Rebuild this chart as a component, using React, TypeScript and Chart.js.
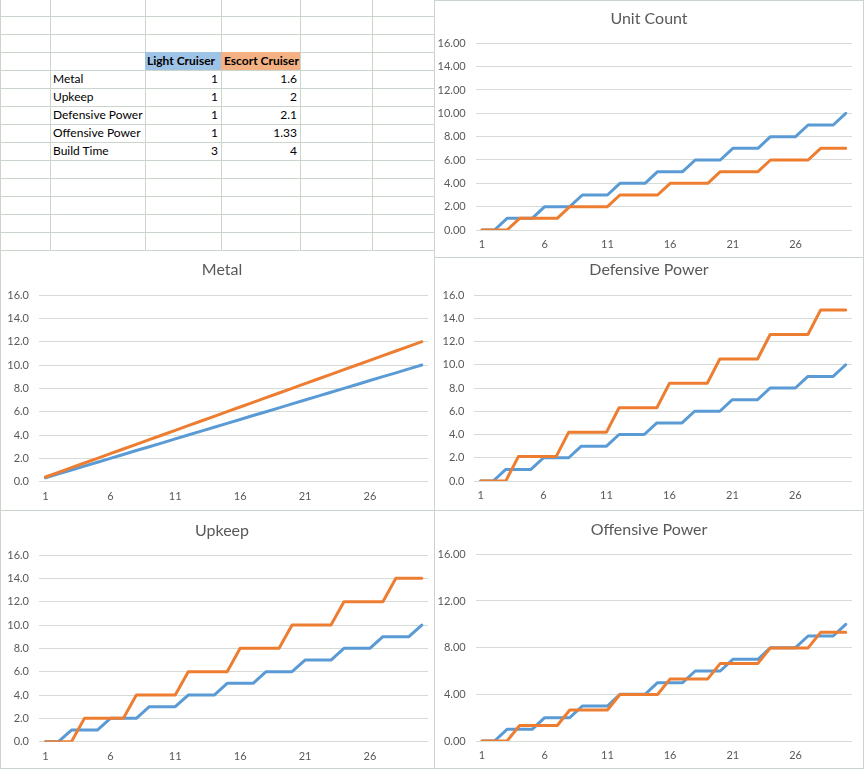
import React, { useEffect, useRef } from 'react';
import { Chart, registerables } from 'chart.js';

Chart.register(...registerables);

// ---------- data ----------
const turnLabels = ['1', '2', '3', '4', '5', '6', '7', '8', '9', '10', '11', '12', '13', '14', '15', '16', '17', '18', '19', '20', '21', '22', '23', '24', '25', '26', '27', '28', '29', '30'];

const seriesNames = ['Light Cruiser', 'Escort Cruiser'];

const unitCountLight = [0, 0, 1, 1, 1, 2, 2, 2, 3, 3, 3, 4, 4, 4, 5, 5, 5, 6, 6, 6, 7, 7, 7, 8, 8, 8, 9, 9, 9, 10];
const unitCountEscort = [0, 0, 0, 1, 1, 1, 1, 2, 2, 2, 2, 3, 3, 3, 3, 4, 4, 4, 4, 5, 5, 5, 5, 6, 6, 6, 6, 7, 7, 7];

const metalLight = [0.33, 0.67, 1.0, 1.33, 1.67, 2.0, 2.33, 2.67, 3.0, 3.33, 3.67, 4.0, 4.33, 4.67, 5.0, 5.33, 5.67, 6.0, 6.33, 6.67, 7.0, 7.33, 7.67, 8.0, 8.33, 8.67, 9.0, 9.33, 9.67, 10.0];
const metalEscort = [0.4, 0.8, 1.2, 1.6, 2.0, 2.4, 2.8, 3.2, 3.6, 4.0, 4.4, 4.8, 5.2, 5.6, 6.0, 6.4, 6.8, 7.2, 7.6, 8.0, 8.4, 8.8, 9.2, 9.6, 10.0, 10.4, 10.8, 11.2, 11.6, 12.0];

const defensiveLight = [0, 0, 1, 1, 1, 2, 2, 2, 3, 3, 3, 4, 4, 4, 5, 5, 5, 6, 6, 6, 7, 7, 7, 8, 8, 8, 9, 9, 9, 10];
const defensiveEscort = [0, 0, 0, 2.1, 2.1, 2.1, 2.1, 4.2, 4.2, 4.2, 4.2, 6.3, 6.3, 6.3, 6.3, 8.4, 8.4, 8.4, 8.4, 10.5, 10.5, 10.5, 10.5, 12.6, 12.6, 12.6, 12.6, 14.7, 14.7, 14.7];

const upkeepLight = [0, 0, 1, 1, 1, 2, 2, 2, 3, 3, 3, 4, 4, 4, 5, 5, 5, 6, 6, 6, 7, 7, 7, 8, 8, 8, 9, 9, 9, 10];
const upkeepEscort = [0, 0, 0, 2, 2, 2, 2, 4, 4, 4, 4, 6, 6, 6, 6, 8, 8, 8, 8, 10, 10, 10, 10, 12, 12, 12, 12, 14, 14, 14];

const offensiveLight = [0, 0, 1, 1, 1, 2, 2, 2, 3, 3, 3, 4, 4, 4, 5, 5, 5, 6, 6, 6, 7, 7, 7, 8, 8, 8, 9, 9, 9, 10];
const offensiveEscort = [0, 0, 0, 1.33, 1.33, 1.33, 1.33, 2.66, 2.66, 2.66, 2.66, 3.99, 3.99, 3.99, 3.99, 5.32, 5.32, 5.32, 5.32, 6.65, 6.65, 6.65, 6.65, 7.98, 7.98, 7.98, 7.98, 9.31, 9.31, 9.31];

const statNames = ['Metal', 'Upkeep', 'Defensive Power', 'Offensive Power', 'Build Time'];
const lightCruiserStats = [1, 1, 1, 1, 3];
const escortCruiserStats = [1.6, 2, 2.1, 1.33, 4];

// ---------- styles ----------
const BLUE = '#5b9bd5';
const ORANGE = '#ed7d31';
const TEXT = '#595959';
const CHART_GRID = '#d6dbd6';
const SHEET_GRID = '#ccd5cc';
const FONT = 'Lato, Carlito, "Open Sans", sans-serif';

// Centre the title over the whole chart box (Excel style), not the padded area.
const fullWidthTitle = {
  id: 'fullWidthTitle',
  afterLayout(chart: any) {
    const t = chart.titleBlock;
    if (t) {
      t.left = 0;
      t.right = chart.width;
      t.width = chart.width;
    }
  },
};

type PanelProps = {
  title: string;
  light: number[];
  escort: number[];
  stepSize: number;
  decimals: number;
  left: number;
  top: number;
  width: number;
  height: number;
  z: number;
  yWidth: number;
  rightPad: number;
  titleTop: number;
  titleBottom: number;
  bottomPad: number;
};

function ChartPanel(p: PanelProps) {
  const ref = useRef<HTMLCanvasElement | null>(null);
  useEffect(() => {
    if (!ref.current) return;
    const chart = new Chart(ref.current, {
      type: 'line',
      data: {
        labels: turnLabels,
        datasets: [
          {
            label: seriesNames[0],
            data: p.light,
            borderColor: BLUE,
            backgroundColor: BLUE,
            borderWidth: 3,
            pointRadius: 0,
            tension: 0,
            borderCapStyle: 'round',
            borderJoinStyle: 'round',
            order: 1,
          },
          {
            label: seriesNames[1],
            data: p.escort,
            borderColor: ORANGE,
            backgroundColor: ORANGE,
            borderWidth: 3,
            pointRadius: 0,
            tension: 0,
            borderCapStyle: 'round',
            borderJoinStyle: 'round',
            order: 0,
          },
        ],
      },
      options: {
        animation: false,
        responsive: false,
        maintainAspectRatio: false,
        layout: { padding: { left: 0, right: p.rightPad, top: 0, bottom: p.bottomPad } },
        plugins: {
          legend: { display: false },
          tooltip: { enabled: false },
          title: {
            display: true,
            text: p.title,
            color: TEXT,
            font: { family: FONT, size: 16, weight: 'normal', lineHeight: 1.2 },
            padding: { top: p.titleTop, bottom: p.titleBottom },
          },
        },
        scales: {
          x: {
            type: 'category',
            offset: true,
            grid: { display: false, drawTicks: false },
            border: { display: false },
            ticks: {
              autoSkip: false,
              maxRotation: 0,
              minRotation: 0,
              padding: 8,
              color: TEXT,
              font: { family: FONT, size: 11 },
              callback: (_v: any, i: number) => (i % 5 === 0 ? turnLabels[i] : ''),
            },
            afterFit: (s: any) => {
              s.height = 22;
            },
          },
          y: {
            min: 0,
            max: 16,
            grid: { color: CHART_GRID, lineWidth: 1, drawTicks: false },
            border: { display: false },
            ticks: {
              stepSize: p.stepSize,
              padding: 10,
              color: TEXT,
              font: { family: FONT, size: 11 },
              callback: (v: any) => Number(v).toFixed(p.decimals),
            },
            afterFit: (s: any) => {
              s.width = p.yWidth;
            },
          },
        },
      },
      plugins: [fullWidthTitle],
    } as any);
    return () => chart.destroy();
  }, []);

  return (
    <div
      style={{
        position: 'absolute',
        left: p.left,
        top: p.top,
        width: p.width,
        height: p.height,
        background: '#ffffff',
        zIndex: p.z,
      }}
    >
      <canvas
        ref={ref}
        width={p.width}
        height={p.height}
        style={{ width: p.width, height: p.height, display: 'block' }}
      />
      <div
        style={{
          position: 'absolute',
          left: 0,
          top: 0,
          width: p.width,
          height: p.height,
          boxSizing: 'border-box',
          border: `1px solid ${SHEET_GRID}`,
          pointerEvents: 'none',
        }}
      />
    </div>
  );
}

const sheetRowLines = [16, 34, 52, 70, 88, 106, 124, 142, 160, 178, 196, 214, 232];
const sheetColLines = [0, 50, 145, 221, 300, 372];

function Sheet() {
  const cellText: React.CSSProperties = {
    position: 'absolute',
    height: 18,
    lineHeight: '18px',
    fontFamily: FONT,
    fontSize: 12,
    color: '#000',
    whiteSpace: 'nowrap',
  };
  return (
    <div style={{ position: 'absolute', left: 0, top: 0, width: 434, height: 250, background: '#fff', zIndex: 0 }}>
      {sheetRowLines.map((y) => (
        <div key={'r' + y} style={{ position: 'absolute', left: 0, top: y, width: 434, height: 1, background: SHEET_GRID }} />
      ))}
      {sheetColLines.map((x) => (
        <div key={'c' + x} style={{ position: 'absolute', left: x, top: 0, width: 1, height: 250, background: SHEET_GRID }} />
      ))}
      <div style={{ ...cellText, left: 145, top: 52, width: 76, background: '#9dc3e6', fontWeight: 'bold', paddingLeft: 2, boxSizing: 'border-box', overflow: 'hidden' }}>
        {seriesNames[0]}
      </div>
      <div style={{ ...cellText, left: 221, top: 52, width: 79, background: '#f4b183', fontWeight: 'bold', paddingLeft: 3, boxSizing: 'border-box', overflow: 'hidden' }}>
        {seriesNames[1]}
      </div>
      {statNames.map((name, i) => (
        <React.Fragment key={name}>
          <div style={{ ...cellText, left: 53, top: 70 + i * 18, width: 92 }}>{name}</div>
          <div style={{ ...cellText, left: 145, top: 70 + i * 18, width: 73, textAlign: 'right' }}>
            {String(lightCruiserStats[i])}
          </div>
          <div style={{ ...cellText, left: 221, top: 70 + i * 18, width: 76, textAlign: 'right' }}>
            {String(escortCruiserStats[i])}
          </div>
        </React.Fragment>
      ))}
    </div>
  );
}

export default function App() {
  useEffect(() => {
    document.body.style.margin = '0';
  }, []);
  return (
    <div style={{ position: 'absolute', left: 0, top: 0, width: 864, height: 769, overflow: 'hidden', background: '#fff' }}>
      <Sheet />
      <ChartPanel
        title="Metal"
        light={metalLight}
        escort={metalEscort}
        stepSize={2}
        decimals={1}
        left={0}
        top={250}
        width={444}
        height={262}
        z={1}
        yWidth={39}
        rightPad={15.7}
        titleTop={10.4}
        titleBottom={15.4}
        bottomPad={8.3}
      />
      <ChartPanel
        title="Upkeep"
        light={upkeepLight}
        escort={upkeepEscort}
        stepSize={2}
        decimals={1}
        left={0}
        top={510}
        width={444}
        height={259}
        z={2}
        yWidth={39}
        rightPad={15.7}
        titleTop={11}
        titleBottom={14.8}
        bottomPad={5.3}
      />
      <ChartPanel
        title="Defensive Power"
        light={defensiveLight}
        escort={defensiveEscort}
        stepSize={2}
        decimals={1}
        left={434}
        top={250}
        width={430}
        height={262}
        z={3}
        yWidth={40.3}
        rightPad={12}
        titleTop={10.4}
        titleBottom={15.4}
        bottomPad={9}
      />
      <ChartPanel
        title="Unit Count"
        light={unitCountLight}
        escort={unitCountEscort}
        stepSize={2}
        decimals={2}
        left={434}
        top={0}
        width={430}
        height={258}
        z={4}
        yWidth={41.7}
        rightPad={12}
        titleTop={9.4}
        titleBottom={14.7}
        bottomPad={6}
      />
      <ChartPanel
        title="Offensive Power"
        light={offensiveLight}
        escort={offensiveEscort}
        stepSize={4}
        decimals={2}
        left={434}
        top={510}
        width={430}
        height={259}
        z={4}
        yWidth={41.7}
        rightPad={12}
        titleTop={10.4}
        titleBottom={14.7}
        bottomPad={6}
      />
    </div>
  );
}
